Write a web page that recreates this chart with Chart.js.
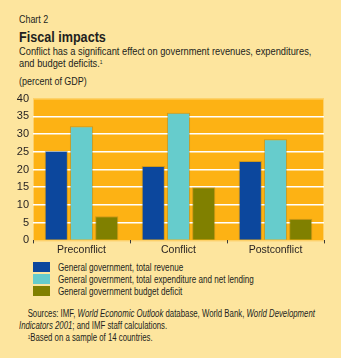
<!DOCTYPE html>
<html>
<head>
<meta charset="utf-8">
<script src="https://cdn.jsdelivr.net/npm/chart.js@4/dist/chart.umd.min.js"></script>
<style>
  html, body { margin: 0; padding: 0; }
  body {
    width: 341px; height: 358px; background: #fde59e; position: relative; overflow: hidden;
    font-family: "Liberation Sans", Arial, sans-serif;
    color: #231f20;
  }
  .t { position: absolute; left: 19px; white-space: nowrap; transform: scaleX(0.81); transform-origin: 0 0; }
  #kicker { top: 13px; font-size: 11px; }
  #title { top: 28px; font-size: 15px; font-weight: bold; transform: scaleX(0.84); }
  #sub { top: 45px; font-size: 11.5px; line-height: 12px; }
  #unit { top: 75px; font-size: 11.5px; transform: scaleX(0.78); }
  #chartBox { position: absolute; left: 0; top: 88px; width: 341px; height: 168px; }
  #legend { position: absolute; left: 33px; top: 261px; font-size: 10.8px; }
  .li { height: 12px; line-height: 12px; position: relative; }
  .sw { position: absolute; left: 0; top: 1px; width: 17px; height: 10px; }
  .lt { position: absolute; left: 25px; top: 0; white-space: nowrap; transform: scaleX(0.75); transform-origin: 0 0; }
  #src { top: 308px; font-size: 10px; line-height: 12px; transform: scaleX(0.78); }
  sup { font-size: 6px; vertical-align: top; position: relative; top: -1px; }
</style>
</head>
<body>
<div class="t" id="kicker">Chart 2</div>
<div class="t" id="title">Fiscal impacts</div>
<div class="t" id="sub">Conflict has a significant effect on government revenues, expenditures,<br>and budget deficits.<sup>1</sup></div>
<div class="t" id="unit">(percent of GDP)</div>
<div id="chartBox"><canvas id="c"></canvas></div>
<div id="legend"></div>
<div class="t" id="src">&nbsp;&nbsp;&nbsp;&nbsp;Sources: IMF, <i>World Economic Outlook</i> database, World Bank, <i>World Development</i><br><i>Indicators 2001</i>; and IMF staff calculations.<br>&nbsp;&nbsp;&nbsp;&nbsp;<sup>1</sup>Based on a sample of 14 countries.</div>

<script>
"use strict";

// data
var categories = ["Preconflict", "Conflict", "Postconflict"];
var seriesNames = [
  "General government, total revenue",
  "General government, total expenditure and net lending",
  "General government budget deficit"
];
var revenue = [25.3, 21.0, 22.4];
var expenditure = [32.2, 36.0, 28.5];
var deficit = [6.8, 15.0, 6.1];
var yTicks = [0, 5, 10, 15, 20, 25, 30, 35, 40];

var colors = ["#0c479d", "#66cccc", "#808000"];
var values = [revenue, expenditure, deficit];
var tickFont = { family: '"Liberation Sans", Arial, sans-serif', size: 11 };

/*-- plot background --*/
var plotBg = {
  id: 'plotBg',
  beforeDraw: function (chart) {
    var a = chart.chartArea, ctx = chart.ctx;
    ctx.save();
    ctx.fillStyle = '#fdb214';
    ctx.fillRect(a.left, a.top, a.right - a.left, a.bottom - a.top);
    ctx.strokeStyle = '#fdd06a';
    ctx.lineWidth = 1;
    ctx.strokeRect(a.left + 0.5, a.top + 0.5, a.right - a.left - 1, a.bottom - a.top);
    ctx.restore();
  }
};

var datasets = values.map(function (v, i) {
  return {
    label: seriesNames[i],
    data: v,
    backgroundColor: colors[i],
    borderColor: 'rgba(120,100,40,0.35)',
    borderWidth: 1,
    barPercentage: 0.92,
    categoryPercentage: 0.78
  };
});

new Chart(document.getElementById('c'), {
  type: 'bar',
  data: { labels: categories, datasets: datasets },
  plugins: [plotBg],
  options: {
    responsive: true,
    maintainAspectRatio: false,
    animation: false,
    layout: { padding: { left: 0, right: 17, top: 2, bottom: 0 } },
    plugins: { legend: { display: false }, tooltip: { enabled: false } },
    scales: {
      x: {
        grid: { display: true, drawOnChartArea: false, drawTicks: true, tickLength: 3, color: '#3a3a3a', offset: true },
        border: { display: false },
        ticks: { color: '#231f20', font: { family: tickFont.family, size: 10.5 }, padding: 0 }
      },
      y: {
        min: 0, max: 40,
        afterBuildTicks: function (axis) { axis.ticks = yTicks.map(function (v) { return { value: v }; }); },
        grid: {
          drawTicks: false,
          lineWidth: 1.5,
          color: function (ctx) {
            var v = ctx.tick && ctx.tick.value;
            return (v === 0 || v === 40) ? 'rgba(0,0,0,0)' : '#ffffff';
          }
        },
        border: { display: false },
        ticks: { color: '#231f20', padding: 4, font: tickFont },
        afterFit: function (axis) { axis.width = 33; }
      }
    }
  }
});

/*-- legend --*/
var lg = document.getElementById('legend');
seriesNames.forEach(function (n, i) {
  var d = document.createElement('div');
  d.className = 'li';
  d.innerHTML = '<span class="sw" style="background:' + colors[i] + '"></span><span class="lt">' + n + '</span>';
  lg.appendChild(d);
});
</script>
</body>
</html>
